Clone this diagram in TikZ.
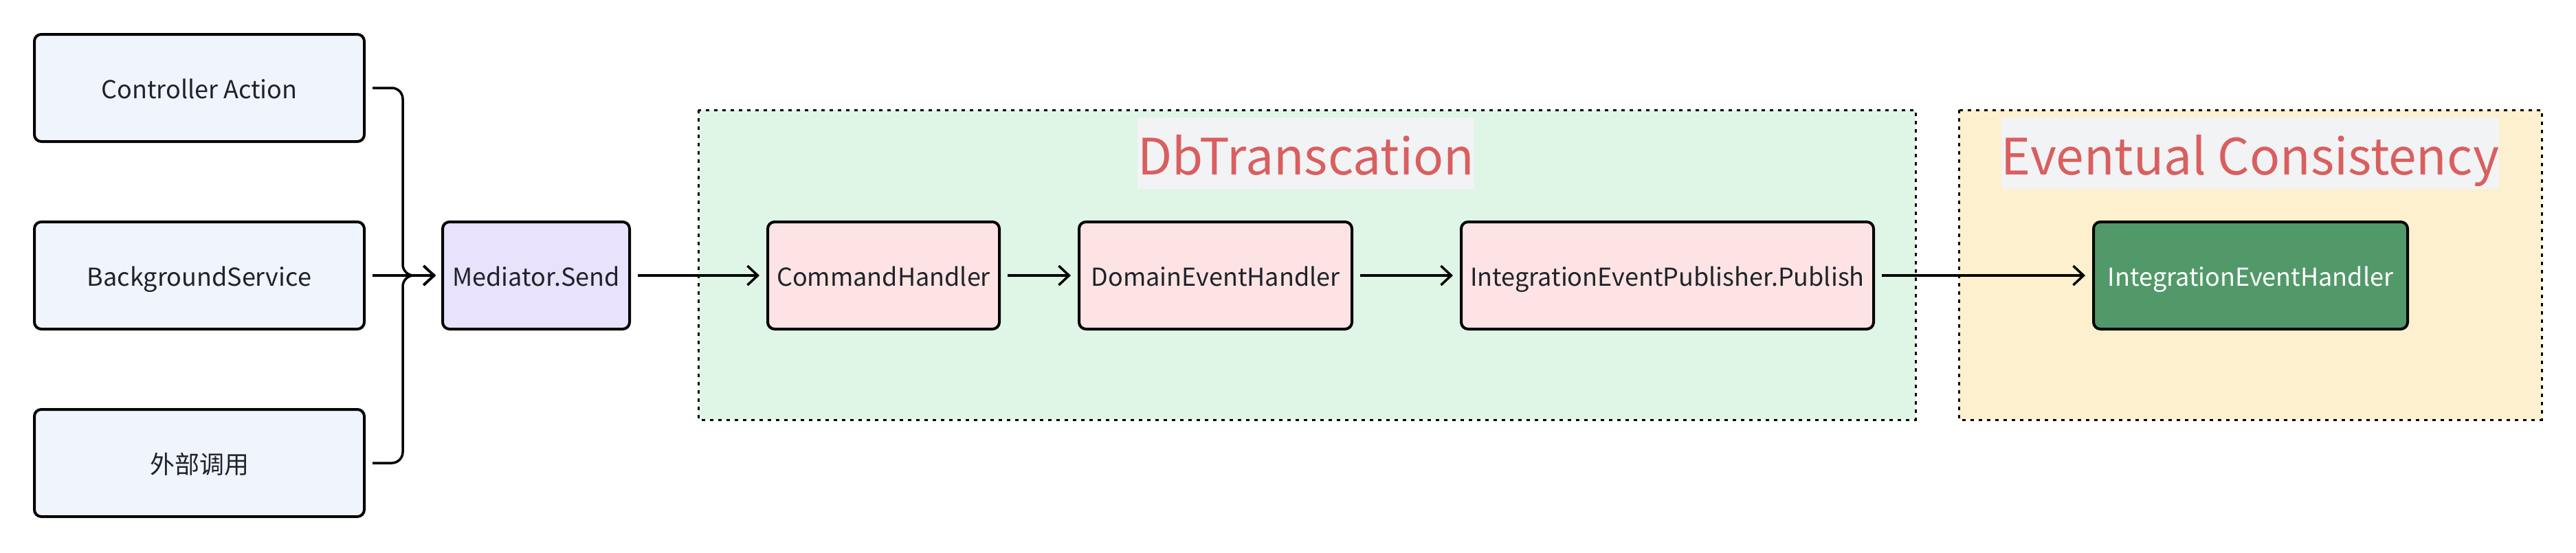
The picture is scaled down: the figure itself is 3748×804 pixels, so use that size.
\documentclass[tikz,border=0pt]{standalone}
\usepackage{fontspec}
\setmainfont{Noto Sans CJK SC}
\usetikzlibrary{arrows.meta}
\definecolor{inputfill}{HTML}{F0F4FD}
\definecolor{medfill}{HTML}{E9E2FD}
\definecolor{redfill}{HTML}{FEE3E4}
\definecolor{greenbg}{HTML}{DFF5E5}
\definecolor{yellowbg}{HTML}{FDF0CE}
\definecolor{titlebg}{HTML}{F2F3F5}
\definecolor{titletext}{HTML}{D95F5F}
\definecolor{greenbox}{HTML}{52996A}
\definecolor{textc}{HTML}{1F2329}
\tikzset{
  box/.style={draw=black, line width=2pt, rounded corners=5pt, minimum height=78pt,
    inner sep=0pt, font=\fontsize{18}{22}\selectfont, text=textc,
    text height=17pt, text depth=1.3pt},
  inbox/.style={box, fill=inputfill, minimum width=240pt},
  medbox/.style={box, fill=medfill},
  redbox/.style={box, fill=redfill},
  grnbox/.style={box, fill=greenbox, text=white},
  group/.style={line width=1.5pt, dash pattern=on 2.5pt off 3.5pt},
  title/.style={fill=titlebg, text=titletext, inner sep=0pt, anchor=base,
    font=\fontsize{36.5}{40}\selectfont, text height=41.5pt, text depth=10.5pt},
  conn/.style={line width=1.75pt, rounded corners=8pt, -{Straight Barb[length=7.5pt,width=14pt]}},
}
\begin{document}
\begin{tikzpicture}[x=0.5pt, y=-0.5pt]
\useasboundingbox[fill=white] (0,0) rectangle (3748,804);
% groups
\draw[group, fill=greenbg] (1016,160) rectangle (2787,611);
\draw[group, fill=yellowbg] (2850,160) rectangle (3698,611);
\node[title] (t1) at (1900,254) {DbTranscation};
\node[title] (t2) at (3274,254) {Eventual Consistency};
% boxes
\node[inbox] (A) at (290,128) {Controller Action};
\node[inbox] (B) at (290,401) {BackgroundService};
\node[inbox] (C) at (290,674) {外部调用};
\node[medbox, minimum width=136pt] (M) at (780,401) {Mediator.Send};
\node[redbox, minimum width=168.5pt] (CH) at (1285.5,401) {CommandHandler};
\node[redbox, minimum width=198.5pt] (DE) at (1768.5,401) {DomainEventHandler};
\node[redbox, minimum width=300pt] (IP) at (2426,401) {IntegrationEventPublisher.Publish};
\node[grnbox, minimum width=228.5pt] (IH) at (3274.5,401) {IntegrationEventHandler};
% connectors
\coordinate (j) at (586,401);
\draw[conn] ([xshift=5pt]A.east) -| (j) -- ([xshift=-4pt]M.west);
\draw[conn] ([xshift=5pt]C.east) -| (j) -- ([xshift=-4pt]M.west);
\draw[conn] ([xshift=5pt]B.east) -- ([xshift=-4pt]M.west);
\draw[conn] ([xshift=5pt]M.east) -- ([xshift=-5pt]CH.west);
\draw[conn] ([xshift=5pt]CH.east) -- ([xshift=-5pt]DE.west);
\draw[conn] ([xshift=5pt]DE.east) -- ([xshift=-5pt]IP.west);
\draw[conn] ([xshift=5pt]IP.east) -- ([xshift=-5pt]IH.west);
\end{tikzpicture}
\end{document}
